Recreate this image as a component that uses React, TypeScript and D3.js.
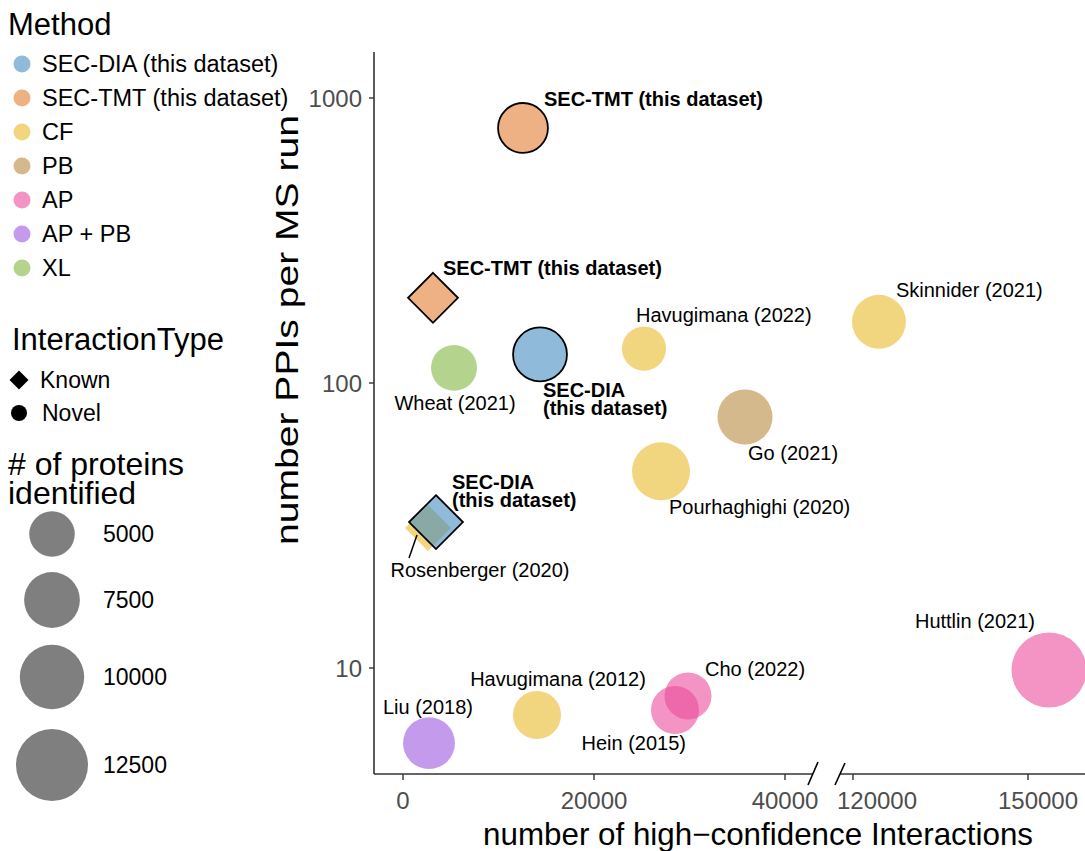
import React from 'react';
import * as d3 from 'd3';

// ---------- data ----------
const methodNames = ['SEC-DIA (this dataset)', 'SEC-TMT (this dataset)', 'CF', 'PB', 'AP', 'AP + PB', 'XL'];
const methodColors = ['#448CC0', '#E17D30', '#E8B92A', '#B78A41', '#EB4D9D', '#9D57DF', '#82B743'];

const pointLabels = [
  'Rosenberger (2020)', 'SEC-DIA\n(this dataset)', 'SEC-TMT (this dataset)', 'SEC-DIA\n(this dataset)',
  'SEC-TMT (this dataset)', 'Wheat (2021)', 'Havugimana (2022)', 'Skinnider (2021)', 'Go (2021)',
  'Pourhaghighi (2020)', 'Liu (2018)', 'Havugimana (2012)', 'Hein (2015)', 'Cho (2022)', 'Huttlin (2021)',
];
const pointMethods = [
  'CF', 'SEC-DIA (this dataset)', 'SEC-TMT (this dataset)', 'SEC-DIA (this dataset)',
  'SEC-TMT (this dataset)', 'XL', 'CF', 'CF', 'PB', 'CF', 'AP + PB', 'CF', 'AP', 'AP', 'AP',
];
const pointTypes = [
  'Known', 'Known', 'Known', 'Novel', 'Novel', 'Novel', 'Novel', 'Novel', 'Novel',
  'Novel', 'Novel', 'Novel', 'Novel', 'Novel', 'Novel',
];
const interactions = [2618, 3455, 3141, 14346, 12565, 5340, 25236, 124450, 35812, 27016, 2722, 14031, 28482, 29843, 153600];
const ppisPerRun = [31.0, 32.5, 199, 126, 785, 113, 132, 164, 76, 49, 5.45, 6.84, 7.12, 7.98, 9.84];
const proteins = [5100, 7000, 6000, 7000, 6000, 5100, 4700, 7000, 7300, 8100, 6500, 5560, 5560, 5330, 13560];
const ownData = [false, true, true, true, true, false, false, false, false, false, false, false, false, false, false];

const yTicks = [10, 100, 1000];
const xTicksLeft = [0, 20000, 40000];
const xTicksRight = [120000, 150000];
const sizeBreaks = [5000, 7500, 10000, 12500];
const typeNames = ['Known', 'Novel'];

// ---------- layout (label placement, not data) ----------
const labelLayout: { anchor: string; dx: number; dy: number; seg?: number[] }[] = [
  { anchor: 'middle', dx: 52, dy: 49, seg: [-11, 7, -19, 30] },
  { anchor: 'start', dx: 16, dy: -33 },
  { anchor: 'start', dx: 10, dy: -23 },
  { anchor: 'start', dx: 3, dy: 43 },
  { anchor: 'start', dx: 21, dy: -22 },
  { anchor: 'middle', dx: 1, dy: 42 },
  { anchor: 'start', dx: -8, dy: -27 },
  { anchor: 'start', dx: 17, dy: -25 },
  { anchor: 'start', dx: 3, dy: 43 },
  { anchor: 'start', dx: 8, dy: 43 },
  { anchor: 'middle', dx: -1, dy: -29 },
  { anchor: 'middle', dx: 21, dy: -29 },
  { anchor: 'end', dx: 11, dy: 40 },
  { anchor: 'start', dx: 17, dy: -20 },
  { anchor: 'end', dx: -14, dy: -42 },
];
const rightTickLabelShift = [24, 10];

const FONT = '"Liberation Sans", Arial, Helvetica, sans-serif';
const ALPHA = 0.6;

export default function App() {
  const W = 1085, H = 851;
  const axisX = 374, axisY = 774, axisTop = 52;
  const y = d3.scaleLog().domain([10, 1000]).range([668, 98]);
  const xLeft = d3.scaleLinear().domain([0, 40000]).range([403, 785]);
  const xRight = d3.scaleLinear().domain([120000, 150000]).range([853, 1028]);
  const xPos = (v: number) => (v < 80000 ? xLeft(v) : xRight(v));
  const r = d3.scaleSqrt().domain([0, 12500]).range([0, 36]);
  const color = d3.scaleOrdinal<string, string>().domain(methodNames).range(methodColors);

  const diamond = (cx: number, cy: number, h: number) =>
    `M${cx},${cy - h}L${cx + h},${cy}L${cx},${cy + h}L${cx - h},${cy}Z`;

  const breakL = 813, breakR = 840;
  const tickColor = '#333333';
  const tickText = '#4D4D4D';

  const sizeLegendY = [534, 600, 677, 765];

  return (
    <svg width={W} height={H} style={{ position: 'absolute', left: 0, top: 0, background: '#fff' }}
      fontFamily={FONT}>
      {/* ---- Method legend ---- */}
      <text x={8} y={35} fontSize={31}>Method</text>
      {methodNames.map((m, i) => (
        <g key={m}>
          <circle cx={22} cy={64 + i * 34} r={8.5} fill={color(m)} fillOpacity={ALPHA} />
          <text x={42} y={64 + i * 34 + 8} fontSize={23.5}>{m}</text>
        </g>
      ))}

      {/* ---- InteractionType legend ---- */}
      <text x={12} y={350} fontSize={31}>InteractionType</text>
      {typeNames.map((t, i) => {
        const cy = 380 + i * 33;
        return (
          <g key={t}>
            {t === 'Known'
              ? <path d={diamond(19, cy, 9.5)} fill="#000" />
              : <circle cx={19} cy={cy} r={8} fill="#000" />}
            <text x={40 + i * 2} y={cy + 8} fontSize={23}>{t}</text>
          </g>
        );
      })}

      {/* ---- size legend ---- */}
      <text x={8} y={475} fontSize={32}># of proteins</text>
      <text x={8} y={504} fontSize={32}>identified</text>
      {sizeBreaks.map((s, i) => (
        <g key={s}>
          <circle cx={52} cy={sizeLegendY[i]} r={r(s)} fill="#7F7F7F" />
          <text x={103} y={sizeLegendY[i] + 8} fontSize={23}>{s}</text>
        </g>
      ))}

      {/* ---- axes ---- */}
      <line x1={axisX} x2={axisX} y1={axisTop} y2={axisY} stroke={tickColor} strokeWidth={1.6} />
      {yTicks.map((t) => (
        <g key={t}>
          <line x1={axisX - 5} x2={axisX} y1={y(t)} y2={y(t)} stroke={tickColor} strokeWidth={1.4} />
          <text x={axisX - 12} y={y(t)} dy="0.36em" textAnchor="end" fontSize={24} fill={tickText}>{t}</text>
        </g>
      ))}
      <line x1={axisX} x2={breakL} y1={axisY} y2={axisY} stroke={tickColor} strokeWidth={1.6} />
      <line x1={breakR} x2={W} y1={axisY} y2={axisY} stroke={tickColor} strokeWidth={1.6} />
      <line x1={808} y1={785} x2={818} y2={762} stroke="#000" strokeWidth={1.6} />
      <line x1={835} y1={785} x2={845} y2={763} stroke="#000" strokeWidth={1.6} />
      {xTicksLeft.map((t) => (
        <g key={t}>
          <line x1={xLeft(t)} x2={xLeft(t)} y1={axisY} y2={axisY + 6} stroke={tickColor} strokeWidth={1.4} />
          <text x={xLeft(t)} y={axisY + 35} textAnchor="middle" fontSize={24} fill={tickText}>{t}</text>
        </g>
      ))}
      {xTicksRight.map((t, i) => (
        <g key={t}>
          <line x1={xRight(t)} x2={xRight(t)} y1={axisY} y2={axisY + 6} stroke={tickColor} strokeWidth={1.4} />
          <text x={xRight(t) + rightTickLabelShift[i]} y={axisY + 35} textAnchor="middle" fontSize={24} fill={tickText}>{t}</text>
        </g>
      ))}
      <text x={758} y={845} textAnchor="middle" fontSize={31.5} textLength={550} lengthAdjust="spacingAndGlyphs">
        number of high−confidence Interactions
      </text>
      <text transform={`translate(298,330) rotate(-90)`} textAnchor="middle" fontSize={32}
        textLength={430} lengthAdjust="spacingAndGlyphs">number PPIs per MS run</text>

      {/* ---- points ---- */}
      {interactions.map((v, i) => {
        const cx = xPos(v);
        const cy = y(ppisPerRun[i]);
        const rad = r(proteins[i]);
        const fill = color(pointMethods[i]);
        const stroke = ownData[i] ? '#000' : 'none';
        return pointTypes[i] === 'Known'
          ? <path key={i} d={diamond(cx, cy, rad)} fill={fill} fillOpacity={ALPHA} stroke={stroke} strokeWidth={1.8} />
          : <circle key={i} cx={cx} cy={cy} r={rad} fill={fill} fillOpacity={ALPHA} stroke={stroke} strokeWidth={1.8} />;
      })}

      {/* ---- labels ---- */}
      {interactions.map((v, i) => {
        const cx = xPos(v);
        const cy = y(ppisPerRun[i]);
        const L = labelLayout[i];
        const lines = pointLabels[i].split('\n');
        return (
          <g key={'l' + i}>
            {L.seg && (
              <line x1={cx + L.seg[0]} y1={cy + L.seg[1]} x2={cx + L.seg[2]} y2={cy + L.seg[3]}
                stroke="#000" strokeWidth={1.5} />
            )}
            <text x={cx + L.dx} y={cy + L.dy} textAnchor={L.anchor}
              fontSize={20} fontWeight={ownData[i] ? 'bold' : 'normal'}>
              {lines.map((ln, j) => (
                <tspan key={j} x={cx + L.dx} dy={j === 0 ? 0 : 18}>{ln}</tspan>
              ))}
            </text>
          </g>
        );
      })}
    </svg>
  );
}
